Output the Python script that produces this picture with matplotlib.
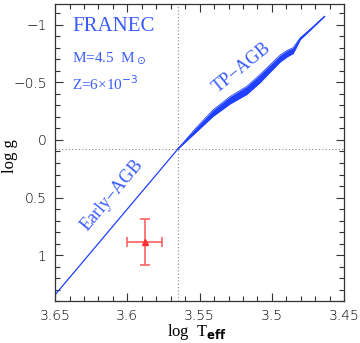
import matplotlib
matplotlib.use("Agg")
import matplotlib.pyplot as plt
import numpy as np

# Early-AGB track (straight segment)
eagb_logT = [3.650, 3.565]
eagb_logg = [1.345, 0.078]

# TP-AGB track centreline and half-width of the band of thermal pulses
tp_logT = [3.5650, 3.5531, 3.5407, 3.5289, 3.5173, 3.5081, 3.5012, 3.4943, 3.4894, 3.4853, 3.4832, 3.4804, 3.4735, 3.4636]
tp_logg = [0.078, -0.078, -0.233, -0.345, -0.431, -0.534, -0.621, -0.707, -0.750, -0.776, -0.819, -0.879, -0.957, -1.072]
tp_half = [0.0, 0.018, 0.028, 0.032, 0.035, 0.035, 0.032, 0.030, 0.028, 0.025, 0.018, 0.008, 0.004, 0.0]

# Observed star
star_logT = [3.588]
star_logg = [0.89]
star_err_T = [0.012]
star_err_g = [0.20]

ref_logT = 3.565
ref_logg = 0.08

blue = "#2040ff"
txtblue = "#3a5cff"
red = "#ff3030"

fig = plt.figure(figsize=(3.6, 3.43), dpi=100)
ax = fig.add_axes([0.153, 0.122, 0.803, 0.866])

ax.axvline(ref_logT, color="#888888", lw=0.8, ls=(0, (1, 2)))
ax.axhline(ref_logg, color="#888888", lw=0.8, ls=(0, (1, 2)))

ax.plot(eagb_logT, eagb_logg, color=blue, lw=0.9)
T = np.array(tp_logT)
g = np.array(tp_logg)
h = np.array(tp_half)
ax.fill_between(T, g - h, g + h, color=blue, lw=0)
ax.plot(T, g, color=blue, lw=1.0)
ax.plot(T, g - h, color=blue, lw=0.6)
ax.plot(T, g + h, color=blue, lw=0.6)

ax.errorbar(star_logT, star_logg, xerr=star_err_T, yerr=star_err_g, fmt="^",
            color=red, ms=5, ecolor="#ff6060", elinewidth=1.2, capsize=3.5, capthick=1.2)

ax.set_xlim(3.65, 3.45)
ax.set_ylim(1.40, -1.18)
ax.set_xticks([3.65, 3.6, 3.55, 3.5, 3.45])
ax.set_xticklabels(["3.65", "3.6", "3.55", "3.5", "3.45"])
ax.set_yticks([-1, -0.5, 0, 0.5, 1])
ax.set_yticklabels(["\u22121", "\u22120.5", "0", "0.5", "1"])
ax.set_xticks(np.arange(3.45, 3.651, 0.01), minor=True)
ax.set_yticks(np.arange(-1.1, 1.41, 0.1), minor=True)
ax.tick_params(which="both", direction="in", top=True, right=True, color="#333333", width=0.8)
ax.tick_params(which="major", length=6, labelsize=10, pad=6)
ax.tick_params(which="minor", length=3.5)
for lab in ax.get_xticklabels() + ax.get_yticklabels():
    lab.set_family("DejaVu Sans")
    lab.set_fontweight("light")
for s in ax.spines.values():
    s.set_color("#333333")
    s.set_linewidth(0.9)

ax.set_xlabel(r"log  T$_{\mathbf{eff}}$", family="Liberation Serif", fontsize=12)
ax.set_ylabel("log g", family="Liberation Serif", fontsize=12)
ax.xaxis.set_label_coords(0.49, -0.105)
ax.yaxis.set_label_coords(-0.155, 0.49)
ax.xaxis.label.set_va("center")
ax.yaxis.label.set_va("center")

ax.text(0.06, 0.955, "FRANEC", transform=ax.transAxes, family="Liberation Serif",
        fontsize=15, color=txtblue, va="top", ha="left")
ax.text(0.06, 0.845, r"M=4.5  M$_\odot$", transform=ax.transAxes, family="Liberation Serif",
        fontsize=11, color=txtblue, va="top", ha="left")
ax.text(0.06, 0.765, "Z=6\u00d710$^{-3}$", transform=ax.transAxes, family="Liberation Serif",
        fontsize=11, color=txtblue, va="top", ha="left")

ax.text(3.6105, 0.48, "Early\u2212AGB", family="Liberation Serif", fontsize=13,
        color=txtblue, rotation=50, ha="center", va="center")
ax.text(3.5205, -0.63, "TP\u2212AGB", family="Liberation Serif", fontsize=13,
        color=txtblue, rotation=39, ha="center", va="center")

fig.savefig("out.png", dpi=100)
